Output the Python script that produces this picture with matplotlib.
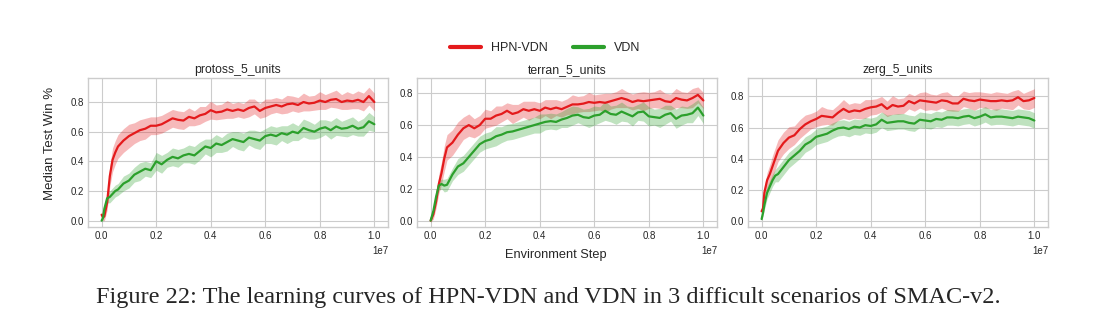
import matplotlib

matplotlib.use("Agg")
import matplotlib.pyplot as plt  # noqa: E402
import numpy as np  # noqa: E402

# environment steps (in units of 1e7)
STEPS = [0, .005, .01, .02, .03, .04, .05, .06,
         .08, .10, .12, .14, .16, .18, .20, .22, .24, .26, .28, .30,
         .32, .34, .36, .38, .40, .42, .44, .46, .48, .50, .52, .54,
         .56, .58, .60, .62, .64, .66, .68, .70, .72, .74, .76, .78,
         .80, .82, .84, .86, .88, .90, .92, .94, .96, .98, 1.00]

SCENARIOS = ["protoss_5_units", "terran_5_units", "zerg_5_units"]
METHODS = ["HPN-VDN", "VDN"]

protoss_hpn = [0.04, 0.02, 0.03, 0.12, 0.30, 0.41, 0.46, 0.50,
               0.54, 0.57, 0.59, 0.61, 0.62, 0.64, 0.64, 0.65, 0.67, 0.69, 0.68, 0.675,
               0.70, 0.69, 0.71, 0.72, 0.745, 0.73, 0.735, 0.75, 0.74, 0.75, 0.74, 0.76,
               0.77, 0.74, 0.76, 0.77, 0.78, 0.77, 0.785, 0.79, 0.78, 0.80, 0.79, 0.795,
               0.81, 0.80, 0.815, 0.82, 0.80, 0.81, 0.805, 0.815, 0.80, 0.84, 0.80]
protoss_hpn_sd = [0.02, 0.02, 0.03, 0.05, 0.07, 0.08, 0.08, 0.08,
                  0.08, 0.08, 0.07, 0.07, 0.07, 0.06, 0.06, 0.06, 0.06, 0.06, 0.06, 0.06,
                  0.06, 0.05, 0.06, 0.05, 0.06, 0.05, 0.05, 0.06, 0.05, 0.05, 0.05, 0.06,
                  0.05, 0.05, 0.06, 0.05, 0.05, 0.05, 0.06, 0.05, 0.05, 0.06, 0.05, 0.05,
                  0.06, 0.05, 0.05, 0.06, 0.05, 0.06, 0.05, 0.06, 0.06, 0.06, 0.06]
protoss_vdn = [0.0, 0.02, 0.08, 0.15, 0.16, 0.18, 0.20, 0.21,
               0.25, 0.27, 0.31, 0.33, 0.35, 0.34, 0.40, 0.38, 0.41, 0.43, 0.42, 0.44,
               0.45, 0.44, 0.47, 0.50, 0.49, 0.52, 0.51, 0.53, 0.55, 0.54, 0.53, 0.56,
               0.55, 0.54, 0.57, 0.58, 0.57, 0.59, 0.58, 0.60, 0.59, 0.625, 0.61, 0.60,
               0.62, 0.63, 0.61, 0.635, 0.62, 0.625, 0.64, 0.62, 0.63, 0.67, 0.65]
protoss_vdn_sd = [0.01, 0.02, 0.03, 0.03, 0.04, 0.04, 0.04, 0.04,
                  0.05, 0.05, 0.05, 0.06, 0.05, 0.05, 0.06, 0.06, 0.05, 0.06, 0.06, 0.05,
                  0.06, 0.06, 0.06, 0.05, 0.06, 0.06, 0.05, 0.06, 0.05, 0.06, 0.06, 0.05,
                  0.06, 0.06, 0.05, 0.06, 0.06, 0.05, 0.06, 0.06, 0.05, 0.06, 0.06, 0.05,
                  0.06, 0.05, 0.06, 0.06, 0.05, 0.06, 0.06, 0.05, 0.06, 0.06, 0.05]

terran_hpn = [0.0, 0.02, 0.04, 0.12, 0.23, 0.30, 0.39, 0.46,
              0.49, 0.54, 0.58, 0.60, 0.58, 0.60, 0.64, 0.64, 0.66, 0.67, 0.69, 0.67,
              0.68, 0.70, 0.69, 0.70, 0.69, 0.71, 0.70, 0.71, 0.70, 0.715, 0.73, 0.73,
              0.735, 0.745, 0.74, 0.745, 0.74, 0.75, 0.76, 0.77, 0.76, 0.745, 0.755, 0.75,
              0.755, 0.76, 0.765, 0.75, 0.745, 0.77, 0.76, 0.755, 0.77, 0.79, 0.755]
terran_hpn_sd = [0.01, 0.02, 0.03, 0.04, 0.06, 0.07, 0.08, 0.08,
                 0.08, 0.08, 0.07, 0.07, 0.06, 0.06, 0.06, 0.05, 0.06, 0.05, 0.05, 0.06,
                 0.05, 0.05, 0.06, 0.05, 0.05, 0.05, 0.06, 0.05, 0.05, 0.05, 0.06, 0.05,
                 0.05, 0.06, 0.05, 0.05, 0.06, 0.05, 0.05, 0.06, 0.05, 0.05, 0.05, 0.06,
                 0.05, 0.05, 0.06, 0.05, 0.05, 0.06, 0.05, 0.05, 0.06, 0.05, 0.05]
terran_vdn = [0.0, 0.03, 0.06, 0.15, 0.22, 0.23, 0.22, 0.225,
              0.29, 0.34, 0.36, 0.40, 0.44, 0.48, 0.50, 0.51, 0.53, 0.54, 0.555, 0.56,
              0.57, 0.58, 0.59, 0.60, 0.61, 0.62, 0.625, 0.62, 0.635, 0.645, 0.66, 0.665,
              0.65, 0.645, 0.66, 0.665, 0.69, 0.67, 0.665, 0.685, 0.67, 0.655, 0.68, 0.685,
              0.655, 0.65, 0.645, 0.665, 0.675, 0.64, 0.66, 0.665, 0.675, 0.71, 0.66]
terran_vdn_sd = [0.01, 0.02, 0.02, 0.03, 0.03, 0.03, 0.04, 0.04,
                 0.04, 0.05, 0.05, 0.05, 0.05, 0.05, 0.05, 0.05, 0.06, 0.05, 0.05, 0.05,
                 0.05, 0.05, 0.05, 0.05, 0.06, 0.05, 0.05, 0.05, 0.05, 0.06, 0.06, 0.05,
                 0.05, 0.06, 0.06, 0.05, 0.06, 0.05, 0.06, 0.06, 0.05, 0.06, 0.05, 0.06,
                 0.06, 0.05, 0.06, 0.06, 0.05, 0.06, 0.06, 0.05, 0.06, 0.05, 0.05]

zerg_hpn = [0.06, 0.08, 0.18, 0.26, 0.30, 0.35, 0.40, 0.45,
            0.50, 0.535, 0.55, 0.59, 0.62, 0.64, 0.655, 0.675, 0.67, 0.665, 0.695, 0.72,
            0.70, 0.71, 0.705, 0.72, 0.73, 0.735, 0.75, 0.72, 0.745, 0.735, 0.74, 0.77,
            0.755, 0.775, 0.77, 0.765, 0.76, 0.775, 0.77, 0.755, 0.755, 0.785, 0.775, 0.77,
            0.78, 0.775, 0.77, 0.77, 0.775, 0.77, 0.775, 0.795, 0.77, 0.775, 0.79]
zerg_hpn_sd = [0.02, 0.03, 0.04, 0.05, 0.06, 0.07, 0.07, 0.07,
               0.07, 0.07, 0.06, 0.06, 0.06, 0.05, 0.05, 0.06, 0.05, 0.05, 0.05, 0.06,
               0.05, 0.05, 0.05, 0.06, 0.05, 0.05, 0.05, 0.05, 0.06, 0.05, 0.05, 0.05,
               0.05, 0.05, 0.06, 0.05, 0.05, 0.05, 0.06, 0.05, 0.05, 0.05, 0.05, 0.06,
               0.05, 0.05, 0.05, 0.06, 0.05, 0.05, 0.06, 0.05, 0.05, 0.06, 0.06]
zerg_vdn = [0.01, 0.05, 0.10, 0.18, 0.22, 0.26, 0.29, 0.30,
            0.345, 0.39, 0.42, 0.45, 0.49, 0.51, 0.54, 0.55, 0.56, 0.58, 0.595, 0.60,
            0.59, 0.605, 0.60, 0.615, 0.61, 0.62, 0.65, 0.63, 0.635, 0.64, 0.64, 0.63,
            0.625, 0.65, 0.645, 0.64, 0.655, 0.65, 0.665, 0.665, 0.66, 0.67, 0.675, 0.66,
            0.67, 0.685, 0.665, 0.67, 0.67, 0.665, 0.66, 0.67, 0.665, 0.66, 0.645]
zerg_vdn_sd = [0.01, 0.02, 0.03, 0.04, 0.04, 0.04, 0.04, 0.05,
               0.05, 0.05, 0.05, 0.05, 0.05, 0.05, 0.05, 0.05, 0.05, 0.05, 0.05, 0.05,
               0.05, 0.05, 0.05, 0.05, 0.05, 0.05, 0.05, 0.05, 0.05, 0.05, 0.05, 0.05,
               0.05, 0.05, 0.05, 0.05, 0.05, 0.05, 0.05, 0.05, 0.05, 0.05, 0.05, 0.05,
               0.05, 0.05, 0.05, 0.05, 0.05, 0.05, 0.05, 0.05, 0.05, 0.05, 0.05]

CURVES = {
    "protoss_5_units": [(protoss_hpn, protoss_hpn_sd), (protoss_vdn, protoss_vdn_sd)],
    "terran_5_units": [(terran_hpn, terran_hpn_sd), (terran_vdn, terran_vdn_sd)],
    "zerg_5_units": [(zerg_hpn, zerg_hpn_sd), (zerg_vdn, zerg_vdn_sd)],
}

COLORS = ["#e41a1c", "#2ca02c"]
YLIMS = [(-0.045, 0.96), (-0.042, 0.894), (-0.043, 0.917)]
LEFTS = [88, 417, 748]

plt.style.use("seaborn-v0_8-whitegrid")
plt.rcParams.update({"font.family": ["Liberation Sans", "DejaVu Sans"]})

W, H = 1093, 324
fig = plt.figure(figsize=(W / 100, H / 100), dpi=100)
x = np.array(STEPS) * 1e7

handles = []
for i, name in enumerate(SCENARIOS):
    ax = fig.add_axes([LEFTS[i] / W, 1 - 227.3 / H, 300 / W, 149 / H])
    for j, (mean, sd) in enumerate(CURVES[name]):
        m = np.array(mean)
        s = np.array(sd)
        ax.fill_between(x, m - s, m + s, color=COLORS[j], alpha=0.3, lw=0)
        (ln,) = ax.plot(x, m, color=COLORS[j], lw=1.6, label=METHODS[j])
        if i == 0:
            handles.append(ln)
    ax.set_ylim(*YLIMS[i])
    ax.set_yticks([0.0, 0.2, 0.4, 0.6, 0.8])
    ax.set_title(name, fontsize=8.8, pad=4)
    ax.tick_params(labelsize=7, colors="#262626", pad=3)
    ax.xaxis.get_offset_text().set_fontsize(7)
    for sp in ax.spines.values():
        sp.set_color("#cccccc")

fig.legend(handles, METHODS, loc="center", bbox_to_anchor=(545 / W, 1 - 48 / H),
           ncol=2, fontsize=9, frameon=False, handlelength=2.5, columnspacing=2.0)
for h in fig.legends[0].get_lines():
    h.set_linewidth(3)

fig.text(50 / W, 1 - 143 / H, "Median Test Win %", rotation=90, fontsize=9.5,
         ha="center", va="center", color="#262626")
fig.text(556 / W, 1 - 255 / H, "Environment Step", fontsize=9.2,
         ha="center", va="center", color="#262626")
fig.text(548 / W, 1 - 297 / H,
         "Figure 22: The learning curves of HPN-VDN and VDN in 3 difficult scenarios of SMAC-v2.",
         fontsize=17.5, family="Liberation Serif", ha="center", va="center")

fig.savefig("out.png", dpi=100)
